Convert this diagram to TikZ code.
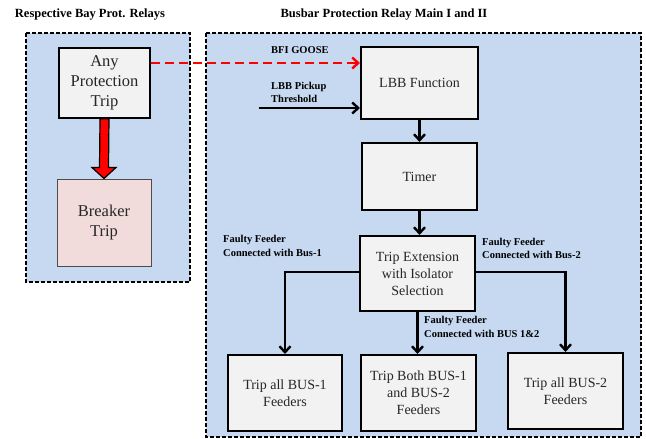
\documentclass[tikz,border=0pt]{standalone}
\usepackage{fontspec}
\setmainfont{Liberation Serif}
\usetikzlibrary{arrows.meta,calc}
\definecolor{bgblue}{HTML}{C6D9F1}
\definecolor{boxgray}{HTML}{F2F2F2}
\definecolor{boxpink}{HTML}{F2DCDB}
\definecolor{txt}{HTML}{262626}
\begin{document}
\begin{tikzpicture}[x=1pt,y=-1pt,
  region/.style={draw=black,fill=bgblue,line width=1.6pt,dash pattern=on 4pt off 2pt},
  blk/.style={draw=black,fill=boxgray,line width=2pt,align=center,inner sep=2pt,
    text=txt,font=\fontsize{14}{17}\selectfont},
  bigblk/.style={blk,line width=1.6pt,font=\fontsize{16.5}{20}\selectfont},
  lbl/.style={font=\bfseries\fontsize{10.5}{13.5}\selectfont,align=left,inner sep=0pt},
  ttl/.style={font=\bfseries\fontsize{12.5}{15}\selectfont,inner sep=0pt},
  arr/.style={draw=black,line width=2.6pt,-{Straight Barb[length=6pt,width=11pt,line width=2.4pt]}},
  redarr/.style={draw=red,line width=2.6pt,dash pattern=on 9pt off 5pt,
    -{Straight Barb[length=6pt,width=11pt,line width=2.4pt]}}]
\useasboundingbox (0,0) rectangle (646,439);
\fill[white] (0,0) rectangle (646,439);
% regions
\draw[region] (26,33) rectangle (190,282);
\draw[region] (206,33) rectangle (641,437);
\node[ttl] (t1) at (90,15) {Respective Bay Prot. Relays};
\node[ttl] (t2) at (384,15) {Busbar Protection Relay Main I and II};
% boxes
\node[bigblk,minimum width=91pt,minimum height=70pt] (ap) at (104.5,83) {Any\\Protection\\Trip};
\node[bigblk,fill=boxpink,draw=black!70,line width=1pt,minimum width=94pt,minimum height=87pt] (bt) at (104,222.5) {Breaker\\Trip};
\node[blk,minimum width=117pt,minimum height=72pt] (lbb) at (419.5,83) {LBB Function};
\node[blk,minimum width=115pt,minimum height=67pt] (timer) at (419.5,176.5) {Timer};
\node[blk,minimum width=115pt,minimum height=75pt] (te) at (417.5,273.5) {Trip Extension\\with Isolator\\Selection};
\node[blk,minimum width=114pt,minimum height=76pt] (b1) at (285,393) {Trip all BUS-1\\Feeders};
\node[blk,minimum width=115pt,minimum height=76pt] (b12) at (418.5,393) {Trip Both BUS-1\\and BUS-2\\Feeders};
\node[blk,minimum width=115pt,minimum height=76pt] (b2) at (565.5,391) {Trip all BUS-2\\Feeders};
% labels
\node[lbl,anchor=west] (goose) at (271,50) {BFI GOOSE};
\node[lbl,anchor=west] (pick) at (271,92.5) {LBB Pickup\\Threshold};
\node[lbl,anchor=west] (f1) at (223,246) {Faulty Feeder\\Connected with Bus-1};
\node[lbl,anchor=west] (f2) at (482,248.5) {Faulty Feeder\\Connected with Bus-2};
\node[lbl,anchor=west] (f12) at (424,327) {Faulty Feeder\\Connected with BUS 1\&2};
% connectors
\coordinate (thr) at (259,108);
\draw[redarr] ([yshift=20pt]ap.east) -- ([yshift=20pt]lbb.west);
\draw[arr] (thr) -- (thr -| lbb.west);
\draw[arr] (lbb.south) -- (timer.north);
\draw[arr] (timer.south) -- (timer.south |- te.north);
\draw[arr] ([yshift=1.5pt]te.west) -| (b1.north);
\draw[arr] ([yshift=1.5pt]te.east) -| (b2.north);
\draw[arr] (te.south) -- (te.south |- b12.north);
% red block arrow
\draw[fill=red,draw=black,line width=1.2pt,line join=miter]
  ($(ap.south)+(-4.5,0)$) -- ($(ap.south)+(4.5,0)$) -- ($(bt.north)+(4.5,-11)$)
  -- ($(bt.north)+(12,-11)$) -- (bt.north) -- ($(bt.north)+(-12,-11)$)
  -- ($(bt.north)+(-4.5,-11)$) -- cycle;
\end{tikzpicture}
\end{document}
